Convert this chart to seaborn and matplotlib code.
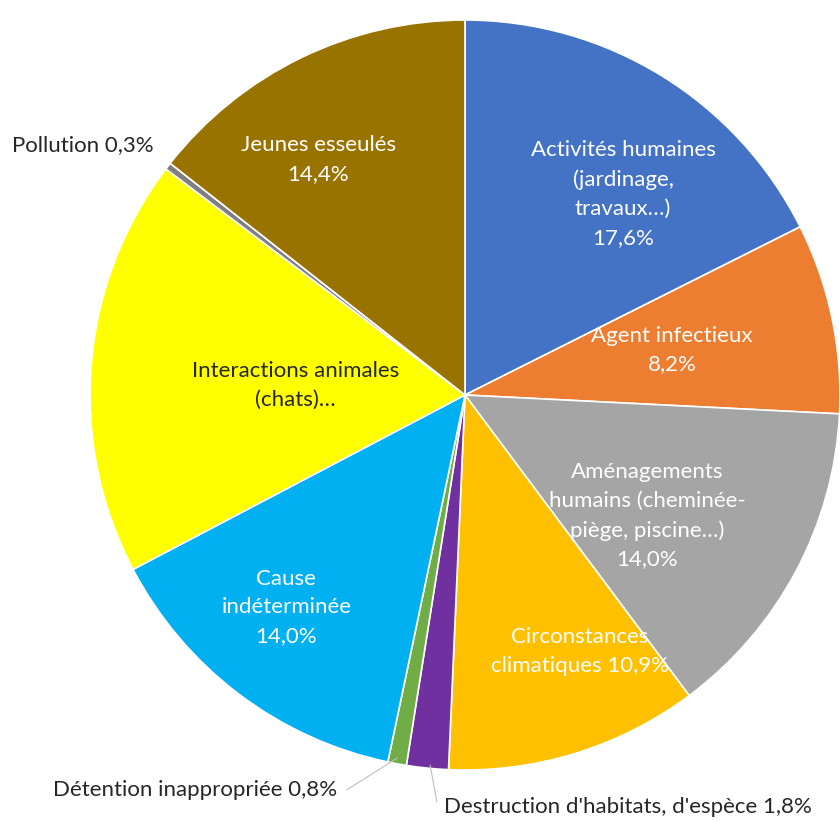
import numpy as np
import matplotlib.pyplot as plt
import seaborn as sns

# Causes d'accueil (%), dans l'ordre horaire depuis midi
causes = ["Activités humaines\n(jardinage,\ntravaux…)", "Agent infectieux",
          "Aménagements\nhumains (cheminée-\npiège, piscine…)", "Circonstances\nclimatiques",
          "Destruction d'habitats, d'espèce", "Détention inappropriée",
          "Cause\nindéterminée", "Interactions animales\n(chats)…", "Pollution",
          "Jeunes esseulés"]
values = [17.6, 8.2, 14.0, 10.9, 1.8, 0.8, 14.0, 18.0, 0.3, 14.4]
show_pct = [True, True, True, True, True, True, True, False, True, True]
pct_same_line = [False, False, False, True, True, True, False, False, True, False]

colors = ["#4472C4", "#ED7D31", "#A5A5A5", "#FFC000", "#7030A0", "#70AD47",
          "#00B0F0", "#FFFF00", "#7F7F7F", "#997300"]
text_colors = ["white", "white", "white", "white", "#262626", "#262626",
               "white", "#262626", "#262626", "white"]
# rayon / décalage angulaire des étiquettes internes (None = étiquette externe)
label_r = [0.682, 0.565, 0.583, 0.75, None, None, 0.74, 0.452, None, 0.74]
label_dang = [-6.5, 0.4, -5.5, 7, 0, 0, -3, 1.3, 0, 6]

sns.set_theme(style="white")
plt.rcParams['font.family'] = ['Lato', 'DejaVu Sans']
FS = 16

fig = plt.figure(figsize=(8.4, 8.21), dpi=100)
ax = fig.add_axes([90 / 840, (821 - 395 - 375) / 821, 750 / 840, 750 / 821])

wedges, _ = ax.pie(values, colors=colors, startangle=90, counterclock=False,
                   radius=1, wedgeprops=dict(edgecolor="white", linewidth=1.2))
ax.set_xlim(-1, 1)
ax.set_ylim(-1, 1)
ax.set_aspect("equal")
ax.axis("off")


def fmt(v):
    return f"{v:.1f}".replace(".", ",") + "%"


labels = []
for c, v, sp, same in zip(causes, values, show_pct, pct_same_line):
    if not sp:
        labels.append(c)
    elif same:
        labels.append(f"{c} {fmt(v)}")
    else:
        labels.append(f"{c}\n{fmt(v)}")

for w, lab, r, da, tc in zip(wedges, labels, label_r, label_dang, text_colors):
    if r is None:
        continue
    ang = np.deg2rad((w.theta1 + w.theta2) / 2 + da)
    ax.text(r * np.cos(ang), r * np.sin(ang), lab, ha="center", va="center",
            color=tc, fontsize=FS, linespacing=1.55)

# étiquettes externes + traits de rappel
ax.text(-1.208, 0.667, labels[8], ha="left", va="center", color="#262626", fontsize=FS)
ax.text(-1.099, -1.053, labels[5], ha="left", va="center", color="#262626", fontsize=FS)
ax.text(-0.056, -1.099, labels[4], ha="left", va="center", color="#262626", fontsize=FS)
ax.plot([-0.315, -0.181], [-1.053, -0.968], color="#BFBFBF", lw=0.8, clip_on=False)
ax.plot([-0.093, -0.075], [-0.987, -1.085], color="#BFBFBF", lw=0.8, clip_on=False)

fig.savefig("out.png", dpi=100, facecolor="white")
